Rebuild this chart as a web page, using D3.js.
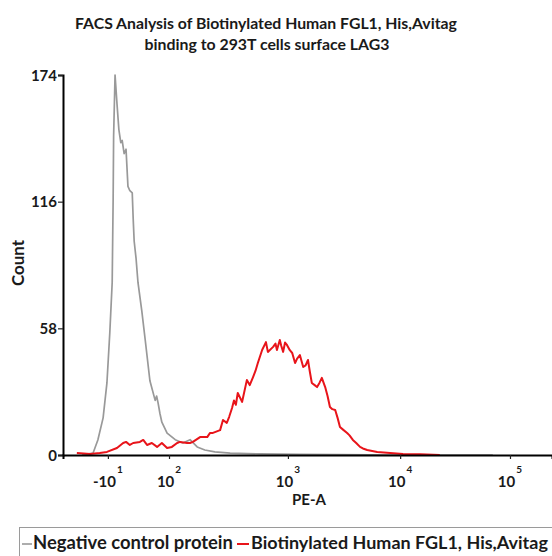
<!DOCTYPE html>
<html>
<head>
<meta charset="utf-8">
<script src="https://cdn.jsdelivr.net/npm/d3@7/dist/d3.min.js"></script>
<style>
html,body{margin:0;padding:0;background:#fff;}
svg text{font-family:Lato,"Open Sans",sans-serif;font-weight:bold;fill:#1a1a1a;}
</style>
</head>
<body>
<svg id="chart" width="552" height="556"></svg>
<script>
// ---------------- DATA ----------------
const titleLines = ["FACS Analysis of Biotinylated Human FGL1, His,Avitag", "binding to 293T cells surface LAG3"];
const xLabel = "PE-A";
const yLabel = "Count";
const seriesNames = ["Negative control protein", "Biotinylated Human FGL1, His,Avitag"];
const seriesColors = ["#999999", "#e8141a"];

// x values are display channels (0..1024, biexponential display scale)
const xTickChannels = [94, 222, 471, 706, 936];
const xTickBase = ["-10", "10", "10", "10", "10"];
const xTickExp = ["1", "2", "3", "4", "5"];
const yTicks = [0, 58, 116, 174];

// Negative control protein histogram (channel, count)
const grayChannel = [40, 63, 73, 84, 92, 98, 103, 105, 106, 109, 113, 117, 121, 124, 128, 132, 136, 140, 145, 147, 149, 153, 157, 165, 172, 182, 193, 196, 199, 203, 207, 218, 235, 251, 266, 281, 297, 318, 350, 412, 496, 580, 705, 900];
const grayCount   = [0, 0.9, 6.9, 17, 33, 56, 79, 117, 146, 174, 161, 149, 143, 144, 138, 140, 123, 121, 120, 108, 98, 90, 79, 66, 53, 34, 25, 27, 24, 19, 15, 10, 7, 5.5, 7, 3.7, 2.3, 1.4, 0.9, 0.5, 0.3, 0.2, 0, 0];

// Biotinylated Human FGL1, His,Avitag histogram (channel, count)
const redChannel = [29, 57, 77, 92, 113, 126, 132, 140, 147, 161, 168, 176, 186, 197, 207, 218, 228, 239, 245, 260, 266, 272, 287, 302, 308, 314, 329, 335, 343, 348, 354, 358, 362, 366, 375, 385, 391, 398, 403, 408, 417, 425, 429, 440, 445, 448, 454, 457, 461, 465, 469, 475, 480, 486, 490, 496, 503, 508, 513, 517, 521, 527, 532, 537, 542, 549, 554, 559, 564, 570, 575, 580, 587, 595, 600, 607, 614, 622, 628, 637, 658, 685, 712, 748, 789];
const redCount   = [0.9, 0.5, 0.9, 1.4, 3.2, 5.5, 6.0, 4.6, 5.5, 6.0, 6.9, 4.6, 5.5, 3.7, 5.5, 3.2, 3.7, 5.5, 6.0, 5.5, 5.5, 6.0, 8.2, 8.2, 10.1, 10.1, 11.4, 16, 14.7, 17.5, 21.5, 25, 23, 28.4, 24.3, 34.3, 32, 35.7, 38.5, 42.1, 48.1, 51.7, 47.2, 49.5, 51, 48.1, 52.7, 50, 47.2, 51.5, 50.4, 48, 46.7, 42.1, 44, 45.8, 40.3, 41, 43.5, 38, 33.0, 32, 31.1, 33, 35.3, 31.1, 27, 22.0, 21, 20.6, 17, 12.8, 11.5, 10.1, 9, 6.9, 5.5, 3.7, 3, 2.3, 1.4, 0.9, 0.5, 0.4, 0];

// ---------------- CHART ----------------
const svg = d3.select("#chart");
const x = d3.scaleLinear().domain([0, 1024]).range([63, 552]);
const y = d3.scaleLinear().domain([0, 174]).range([455, 75]);

function fit(sel, w) {
  const cur = sel.node().getComputedTextLength();
  const fs = parseFloat(sel.attr("font-size"));
  sel.attr("font-size", (fs * w / cur).toFixed(2));
  return sel;
}

// title
fit(svg.append("text").attr("x", 266).attr("y", 29).attr("text-anchor", "middle").attr("font-size", 14).text(titleLines[0]), 382);
fit(svg.append("text").attr("x", 267).attr("y", 50).attr("text-anchor", "middle").attr("font-size", 14).text(titleLines[1]), 245);

// curves
const line = d3.line().x(d => x(d[0])).y(d => y(d[1]));
const grayData = grayChannel.map((c, i) => [c, grayCount[i]]);
const redData = redChannel.map((c, i) => [c, redCount[i]]);
svg.append("path").datum(grayData).attr("d", line).attr("fill", "none")
  .attr("stroke", seriesColors[0]).attr("stroke-width", 1.7).attr("stroke-linejoin", "round");
svg.append("path").datum(redData).attr("d", line).attr("fill", "none")
  .attr("stroke", seriesColors[1]).attr("stroke-width", 2).attr("stroke-linejoin", "round");

// y axis
const yMinor = d3.range(0, 174.01, 14.5);
const yAxisG = svg.append("g").attr("transform", "translate(63,0)");
yAxisG.call(d3.axisLeft(y).tickValues(yMinor).tickSize(2).tickFormat(""));
yAxisG.call(d3.axisLeft(y).tickValues(yTicks).tickSize(5).tickFormat(d3.format("d")));
yAxisG.select(".domain").attr("stroke-width", 2);
yAxisG.selectAll("line").attr("stroke", "#222").attr("stroke-width", 1.2);
yAxisG.selectAll("text").attr("font-size", 15).attr("font-family", "Lato").attr("font-weight", "bold").attr("fill", "#1a1a1a").attr("x", -6).attr("dy", "0.35em");

// x axis
const xMinor = [];
d3.range(0, 222, 14).forEach(c => xMinor.push(c));
for (let i = 1; i < xTickChannels.length; i++) {
  const a = xTickChannels[i], b = (i + 1 < xTickChannels.length) ? xTickChannels[i + 1] : xTickChannels[i] + (xTickChannels[i] - xTickChannels[i - 1]);
  for (let k = 2; k <= 9; k++) {
    const c = a + Math.log10(k) * (b - a);
    if (c <= 1024) xMinor.push(c);
  }
}
const xAxisG = svg.append("g").attr("transform", "translate(0,455)");
xAxisG.call(d3.axisBottom(x).tickValues(xMinor).tickSize(2).tickFormat(""));
xAxisG.call(d3.axisBottom(x).tickValues(xTickChannels).tickSize(4).tickFormat(""));
xAxisG.select(".domain").attr("stroke-width", 2);
xAxisG.selectAll("line").attr("stroke", "#222").attr("stroke-width", 1.2);

const xl = svg.append("g").selectAll("text").data(xTickChannels).join("text")
  .attr("x", d => x(d)).attr("y", 487).attr("text-anchor", "middle").attr("font-size", 15);
xl.append("tspan").text((d, i) => xTickBase[i]);
xl.append("tspan").attr("font-size", 10).attr("dy", -14).attr("dx", 1).text((d, i) => xTickExp[i]);

// axis labels
fit(svg.append("text").attr("x", 309).attr("y", 505).attr("text-anchor", "middle").attr("font-size", 14).text(xLabel), 34);
fit(svg.append("text").attr("transform", "translate(24,263) rotate(-90)").attr("text-anchor", "middle").attr("font-size", 14).text(yLabel), 46);

// legend
svg.append("rect").attr("x", 19.5).attr("y", 527.5).attr("width", 560).attr("height", 60)
  .attr("fill", "none").attr("stroke", "#9a9a9a").attr("stroke-width", 1);
svg.append("line").attr("x1", 22).attr("x2", 32).attr("y1", 544).attr("y2", 544).attr("stroke", seriesColors[0]).attr("stroke-width", 1.6);
fit(svg.append("text").attr("x", 33).attr("y", 549).attr("font-size", 15).text(seriesNames[0]), 200);
svg.append("line").attr("x1", 237).attr("x2", 249).attr("y1", 544).attr("y2", 544).attr("stroke", seriesColors[1]).attr("stroke-width", 2);
fit(svg.append("text").attr("x", 251).attr("y", 549).attr("font-size", 15).text(seriesNames[1]), 297);
</script>
</body>
</html>
